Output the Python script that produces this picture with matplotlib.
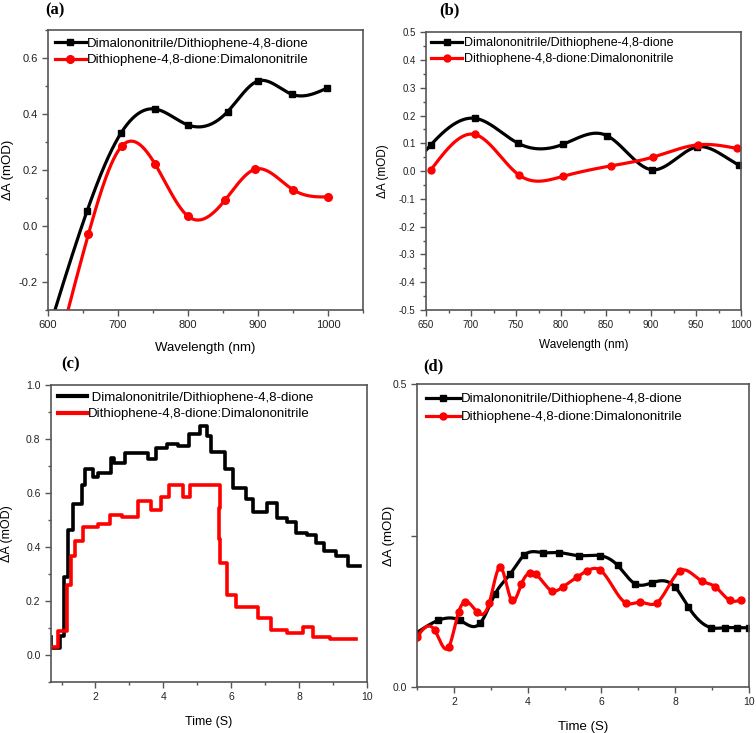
import numpy as np
import matplotlib.pyplot as plt
from matplotlib.lines import Line2D
from matplotlib.ticker import MultipleLocator

plt.rcParams['font.family'] = ['Liberation Sans', 'DejaVu Sans']
plt.rcParams['axes.unicode_minus'] = False

label_black = "Dimalononitrile/Dithiophene-4,8-dione"
label_red = "Dithiophene-4,8-dione:Dimalononitrile"

# (a) wavelength scan; first point of each series sits below the axis (no marker shown)
a_wl_black = [600, 655.7, 704, 752.9, 800, 856.7, 900, 949, 999]
a_dA_black = [-0.38, 0.053, 0.331, 0.418, 0.361, 0.409, 0.518, 0.47, 0.493]
a_wl_red = [600, 657.6, 705.2, 753, 800, 853.3, 896, 950.5, 1000.5]
a_dA_red = [-0.58, -0.03, 0.285, 0.221, 0.035, 0.094, 0.203, 0.129, 0.104]

# (b) wavelength scan
b_wl_black = [650, 655.5, 704.8, 752, 801.7, 850.9, 900.8, 950.8, 998.1, 1000]
b_dA_black = [0.075, 0.095, 0.19, 0.101, 0.096, 0.128, 0.005, 0.087, 0.021, 0.018]
b_wl_red = [655.5, 704.4, 752.9, 801.7, 855.4, 902.7, 952.6, 995.2]
b_dA_red = [0.005, 0.132, -0.013, -0.019, 0.019, 0.051, 0.095, 0.082]

# (c) kinetics, step traces (value holds from each time to the next)
c_t_black = [0.69, 0.70, 0.95, 1.08, 1.2, 1.35, 1.61, 1.69, 1.93, 2.08, 2.45, 2.55, 2.88,
             3.55, 3.79, 4.1, 4.44, 4.75, 5.07, 5.29, 5.41, 5.81, 6.06, 6.42, 6.65,
             7.04, 7.35, 7.65, 7.9, 8.22, 8.51, 8.73, 9.1, 9.44, 9.79]
c_dA_black = [0.068, 0.025, 0.07, 0.29, 0.463, 0.56, 0.63, 0.69, 0.658, 0.675, 0.731, 0.71,
              0.747, 0.726, 0.766, 0.781, 0.774, 0.818, 0.848, 0.81, 0.753, 0.691, 0.617,
              0.577, 0.531, 0.562, 0.509, 0.494, 0.453, 0.444, 0.416, 0.385, 0.367, 0.331, 0.331]
c_t_red = [0.69, 0.9, 1.15, 1.29, 1.39, 1.64, 2.06, 2.42, 2.79, 3.24, 3.63, 3.92, 4.16,
           4.58, 4.78, 5.67, 5.64, 5.67, 5.86, 6.13, 6.79, 7.16, 7.65, 8.1, 8.4, 8.9, 9.67]
c_dA_red = [0.031, 0.09, 0.259, 0.367, 0.423, 0.475, 0.484, 0.519, 0.51, 0.57, 0.537, 0.584,
            0.63, 0.586, 0.63, 0.545, 0.43, 0.34, 0.222, 0.179, 0.136, 0.093, 0.08, 0.102,
            0.068, 0.06, 0.06]

# (d) kinetics
d_t_black = [1.0, 1.57, 2.17, 2.72, 3.12, 3.53, 3.91, 4.41, 4.86, 5.38, 5.97, 6.44, 6.9,
             7.36, 8.0, 8.36, 8.98, 9.35, 9.69, 10.0]
d_dA_black = [0.090, 0.110, 0.110, 0.106, 0.154, 0.187, 0.218, 0.222, 0.222, 0.217, 0.217,
              0.201, 0.171, 0.172, 0.165, 0.132, 0.098, 0.098, 0.098, 0.098]
d_t_red = [1.0, 1.48, 1.86, 2.13, 2.31, 2.63, 2.96, 3.26, 3.57, 3.83, 4.07, 4.23, 4.66,
           4.97, 5.35, 5.61, 5.97, 6.66, 7.05, 7.5, 8.14, 8.72, 9.08, 9.49, 9.79]
d_dA_red = [0.083, 0.094, 0.066, 0.124, 0.141, 0.124, 0.139, 0.198, 0.143, 0.170, 0.189,
            0.186, 0.159, 0.166, 0.182, 0.192, 0.193, 0.139, 0.140, 0.139, 0.192, 0.175,
            0.166, 0.143, 0.144]


def spline(x, y, n=500):
    # natural cubic spline through the points
    x = np.asarray(x, float)
    y = np.asarray(y, float)
    h = np.diff(x)
    k = len(x)
    A = np.zeros((k, k))
    b = np.zeros(k)
    A[0, 0] = A[-1, -1] = 1
    for i in range(1, k - 1):
        A[i, i - 1] = h[i - 1]
        A[i, i] = 2 * (h[i - 1] + h[i])
        A[i, i + 1] = h[i]
        b[i] = 6 * ((y[i + 1] - y[i]) / h[i] - (y[i] - y[i - 1]) / h[i - 1])
    M = np.linalg.solve(A, b)
    xs = np.linspace(x[0], x[-1], n)
    idx = np.clip(np.searchsorted(x, xs) - 1, 0, k - 2)
    x0, x1 = x[idx], x[idx + 1]
    hh = x1 - x0
    p = (x1 - xs) / hh
    q = (xs - x0) / hh
    ys = p * y[idx] + q * y[idx + 1] + ((p**3 - p) * M[idx] + (q**3 - q) * M[idx + 1]) * hh**2 / 6
    return xs, ys


def style_axes(ax, fs=7.5):
    for s in ax.spines.values():
        s.set_color('#555555')
        s.set_linewidth(1.2)
    ax.tick_params(which='both', direction='out', top=False, right=False,
                   color='#555555', labelsize=fs, labelcolor='#222222')
    ax.tick_params(which='major', length=4, width=1)
    ax.tick_params(which='minor', length=2.5, width=1)


def add_legend(ax, handles, fs=9.5, hl=2.3, sp=0.35, pad=0.25):
    ax.legend(handles=handles, loc='upper left', bbox_to_anchor=(0.0, 1.0),
              frameon=False, fontsize=fs, handlelength=hl, handletextpad=0.1,
              labelspacing=sp, borderaxespad=pad, borderpad=0.3)


fig = plt.figure(figsize=(7.56, 7.33), dpi=100)

lw = 2.3

# ---- (a)
ax = fig.add_axes([0.0635, 0.577, 0.4167, 0.382])
xs, ys = spline(a_wl_black, a_dA_black)
ax.plot(xs, ys, color='black', lw=lw)
ax.plot(a_wl_black[1:], a_dA_black[1:], 's', color='black', ms=5)
xs, ys = spline(a_wl_red, a_dA_red)
ax.plot(xs, ys, color='red', lw=lw)
ax.plot(a_wl_red[1:], a_dA_red[1:], 'o', color='red', ms=5.5)
ax.set_xlim(600, 1050)
ax.set_ylim(-0.3, 0.7)
ax.set_yticks([-0.2, 0.0, 0.2, 0.4, 0.6])
ax.xaxis.set_minor_locator(MultipleLocator(50))
ax.yaxis.set_minor_locator(MultipleLocator(0.1))
ax.set_xticks([600, 700, 800, 900, 1000])
style_axes(ax, 8)
ax.set_xlabel('Wavelength (nm)', fontsize=9.5, labelpad=8)
ax.set_ylabel('ΔA (mOD)', fontsize=9.5)
ax.yaxis.set_label_coords(-0.108, 0.5)
add_legend(ax, [Line2D([], [], color='black', lw=lw, marker='s', ms=5, label=label_black),
                Line2D([], [], color='red', lw=lw, marker='o', ms=5.5, label=label_red)])

# ---- (b)
ax = fig.add_axes([0.5635, 0.577, 0.4167, 0.379])
xs, ys = spline(b_wl_black, b_dA_black)
ax.plot(xs, ys, color='black', lw=lw)
ax.plot(b_wl_black[1:-1], b_dA_black[1:-1], 's', color='black', ms=4.5)
xs, ys = spline(b_wl_red, b_dA_red)
ax.plot(xs, ys, color='red', lw=lw)
ax.plot(b_wl_red, b_dA_red, 'o', color='red', ms=5)
ax.set_xlim(650, 1000)
ax.set_ylim(-0.5, 0.5)
ax.xaxis.set_major_locator(MultipleLocator(50))
ax.xaxis.set_minor_locator(MultipleLocator(25))
ax.yaxis.set_major_locator(MultipleLocator(0.1))
ax.yaxis.set_minor_locator(MultipleLocator(0.05))
style_axes(ax, 7)
ax.set_yticklabels([f'{v:.1f}' for v in ax.get_yticks()])
ax.set_xlabel('Wavelength (nm)', fontsize=8.5, labelpad=6)
ax.set_ylabel('ΔA (mOD)', fontsize=8.5)
ax.yaxis.set_label_coords(-0.117, 0.5)
add_legend(ax, [Line2D([], [], color='black', lw=lw, marker='s', ms=4.5, label=label_black),
                Line2D([], [], color='red', lw=lw, marker='o', ms=5, label=label_red)],
           fs=9, hl=2.5, sp=0.3, pad=0.1)

# ---- (c)
ax = fig.add_axes([0.0675, 0.0696, 0.418, 0.405])
ax.plot(c_t_black, c_dA_black, color='black', lw=2.6, drawstyle='steps-post')
ax.plot(c_t_red, c_dA_red, color='red', lw=2.6, drawstyle='steps-post')
ax.set_xlim(0.69, 10)
ax.set_ylim(-0.1, 1.0)
ax.set_xticks([2, 4, 6, 8, 10])
ax.xaxis.set_minor_locator(MultipleLocator(1))
ax.set_yticks([0.0, 0.2, 0.4, 0.6, 0.8, 1.0])
ax.yaxis.set_minor_locator(MultipleLocator(0.1))
style_axes(ax, 7.5)
ax.set_xlabel('Time (S)', fontsize=9, labelpad=10)
ax.set_ylabel('ΔA (mOD)', fontsize=9)
ax.yaxis.set_label_coords(-0.12, 0.5)
add_legend(ax, [Line2D([], [], color='black', lw=3, label=' ' + label_black),
                Line2D([], [], color='red', lw=3, label=label_red)],
           fs=9.5, hl=2.2, sp=0.3, pad=0.2)

# ---- (d)
ax = fig.add_axes([0.5516, 0.0627, 0.439, 0.413])
xs, ys = spline(d_t_black, d_dA_black)
ax.plot(xs, ys, color='black', lw=lw)
ax.plot(d_t_black, d_dA_black, 's', color='black', ms=4.5)
xs, ys = spline(d_t_red, d_dA_red)
ax.plot(xs, ys, color='red', lw=lw)
ax.plot(d_t_red, d_dA_red, 'o', color='red', ms=5)
ax.set_xlim(1, 10)
ax.set_ylim(0, 0.5)
ax.set_xticks([2, 4, 6, 8, 10])
ax.xaxis.set_minor_locator(MultipleLocator(1))
ax.set_yticks([0.0, 0.25, 0.5])
ax.set_yticklabels(['0.0', '', '0.5'])
style_axes(ax, 7.5)
ax.set_xlabel('Time (S)', fontsize=9.5, labelpad=10)
ax.set_ylabel('ΔA (mOD)', fontsize=9.5)
ax.yaxis.set_label_coords(-0.066, 0.5)
add_legend(ax, [Line2D([], [], color='black', lw=lw, marker='s', ms=4.5, label=label_black),
                Line2D([], [], color='red', lw=lw, marker='o', ms=5, label=label_red)],
           fs=9.5, hl=2.6, sp=0.45, pad=0.35)

# panel letters
for x, y, s in [(0.073, 0.986, '(a)'), (0.595, 0.986, '(b)'),
                (0.093, 0.503, '(c)'), (0.573, 0.5, '(d)')]:
    fig.text(x, y, s, ha='center', va='center', fontsize=12, fontweight='bold',
             family='Liberation Serif')

fig.savefig('out.png', dpi=100)
